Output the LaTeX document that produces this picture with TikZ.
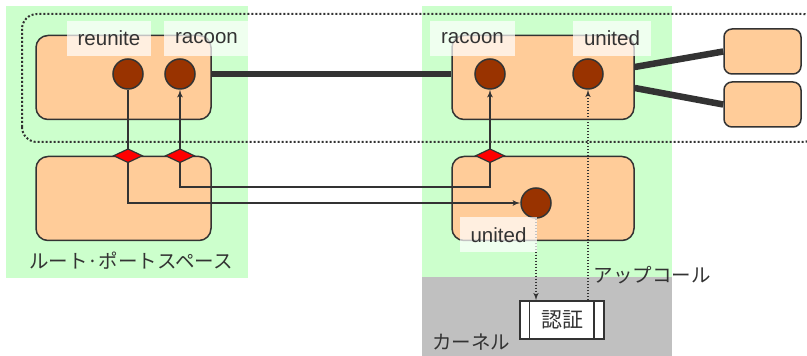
\documentclass[tikz,border=0pt]{standalone}
\usepackage{fontspec}
\setmainfont{Liberation Sans}
\newfontfamily\jpfont{Noto Sans CJK JP}
\usetikzlibrary{arrows,shapes}
\definecolor{zone}{HTML}{CCFFCC}
\definecolor{kern}{HTML}{C0C0C0}
\definecolor{peach}{HTML}{FFCC99}
\definecolor{portbrown}{HTML}{993300}
\definecolor{ink}{HTML}{333333}

\begin{document}
\begin{tikzpicture}[x=1pt, y=1pt, node distance=121pt, auto]
\tikzstyle{proc} = [ rectangle, draw=ink, line width=1.5pt, fill=peach, rounded corners=12pt, minimum width=175pt, minimum height=84pt ]
\tikzstyle{peer} = [ rectangle, draw=ink, line width=1.5pt, fill=peach, rounded corners=8pt, minimum width=77pt, minimum height=45pt ]
\tikzstyle{sock} = [ circle, draw=ink, line width=1.5pt, fill=portbrown, minimum size=30pt, inner sep=0pt ]
\tikzstyle{junction} = [ diamond, aspect=2, draw=ink, line width=1.2pt, fill=red, minimum width=29pt, minimum height=14pt, inner sep=0pt ]
\tikzstyle{tag} = [ fill=white, fill opacity=0.7, text opacity=1, text=ink, inner xsep=11pt, minimum height=35pt, font=\fontsize{20.5}{24}\selectfont ]
\tikzstyle{area} = [ text=ink, inner sep=0pt, font=\jpfont\fontsize{19.5}{23}\selectfont ]
\tikzstyle{check} = [ rectangle, draw=ink, line width=1.5pt, fill=white, minimum width=84pt, minimum height=38pt, font=\jpfont\fontsize{21}{24}\selectfont, text=ink ]
\tikzstyle{link} = [ draw=ink, line width=6.5pt ]
\tikzstyle{line} = [ draw=ink, line width=1.6pt, -latex' ]
\tikzstyle{call} = [ draw=ink, line width=1.5pt, dash pattern=on 1.5pt off 1.5pt, -latex' ]
\useasboundingbox (0,0) rectangle (807,356);
% spaces
\fill [zone] (6,78) rectangle (248,350);
\fill [zone] (422,79) rectangle (672,350);
\fill [kern] (422,0) rectangle (672,79);
\draw [ink, line width=2pt, dash pattern=on 2pt off 2pt, rounded corners=15pt] (22,214) rectangle (818,342);

% place nodes
\node [proc] (root-up) at (123.5,278.5) {};
\node [proc, below of=root-up] (root-down) {};
\node [proc, minimum width=182pt, node distance=419.5pt, right of=root-up] (app-up) {};
\node [proc, minimum width=182pt, below of=app-up] (app-down) {};
\node [peer] (peer-1) at (762.5,304.5) {};
\node [peer, node distance=53pt, below of=peer-1] (peer-2) {};
\node [sock] (reunite-l) at (128,282) {};
\node [sock] (racoon-l) at (180,282) {};
\node [sock] (racoon-r) at (490,282) {};
\node [sock] (united-r) at (588,282) {};
\node [sock] (united-d) at (536,153) {};
\node [check] (ninsho) at (562,36) {認証};
\draw [ink, line width=1.5pt] ([xshift=10pt]ninsho.north west) -- ([xshift=10pt]ninsho.south west);
\draw [ink, line width=1.5pt] ([xshift=-11pt]ninsho.north east) -- ([xshift=-11pt]ninsho.south east);

% draw edges
\path [link] (racoon-l -| root-up.east) -- (racoon-r -| app-up.west);
\path [link] ([yshift=10.5pt]app-up.east) -- (peer-1.west);
\path [link] ([yshift=-10.5pt]app-up.east) -- (peer-2.west);
\path [line] (reunite-l.south) |- (united-d.west);
\path [line] (racoon-r.south |- app-down.north) -- ++(0,-31) -| (racoon-l.south);
\path [line] (racoon-r.south |- app-down.north) -- (racoon-r.south);
\path [call] (united-d.south) -- (united-d |- ninsho.north);
\path [call] (ninsho.north -| united-r) -- (united-r.south);

% junctions on top
\node [junction] (j-reunite) at (reunite-l |- root-down.north) {};
\node [junction] (j-racoon-l) at (racoon-l |- root-down.north) {};
\node [junction] (j-racoon-r) at (racoon-r |- app-down.north) {};

% labels
\node [tag] (t-reunite) at (109,317.5) {reunite};
\node [tag] (t-racoon-l) at (206.5,317.5) {racoon};
\node [tag] (t-racoon-r) at (472.5,317.5) {racoon};
\node [tag] (t-united-r) at (612,317.5) {united};
\node [tag] (t-united-d) at (498.5,121) {united};
\node [area] (root-space) at (131,95) {ルート·ポートスペース};
\node [area] (upcall) at (652,81) {アップコール};
\node [area] (kernel) at (471,14) {カーネル};
\end{tikzpicture}
\end{document}
